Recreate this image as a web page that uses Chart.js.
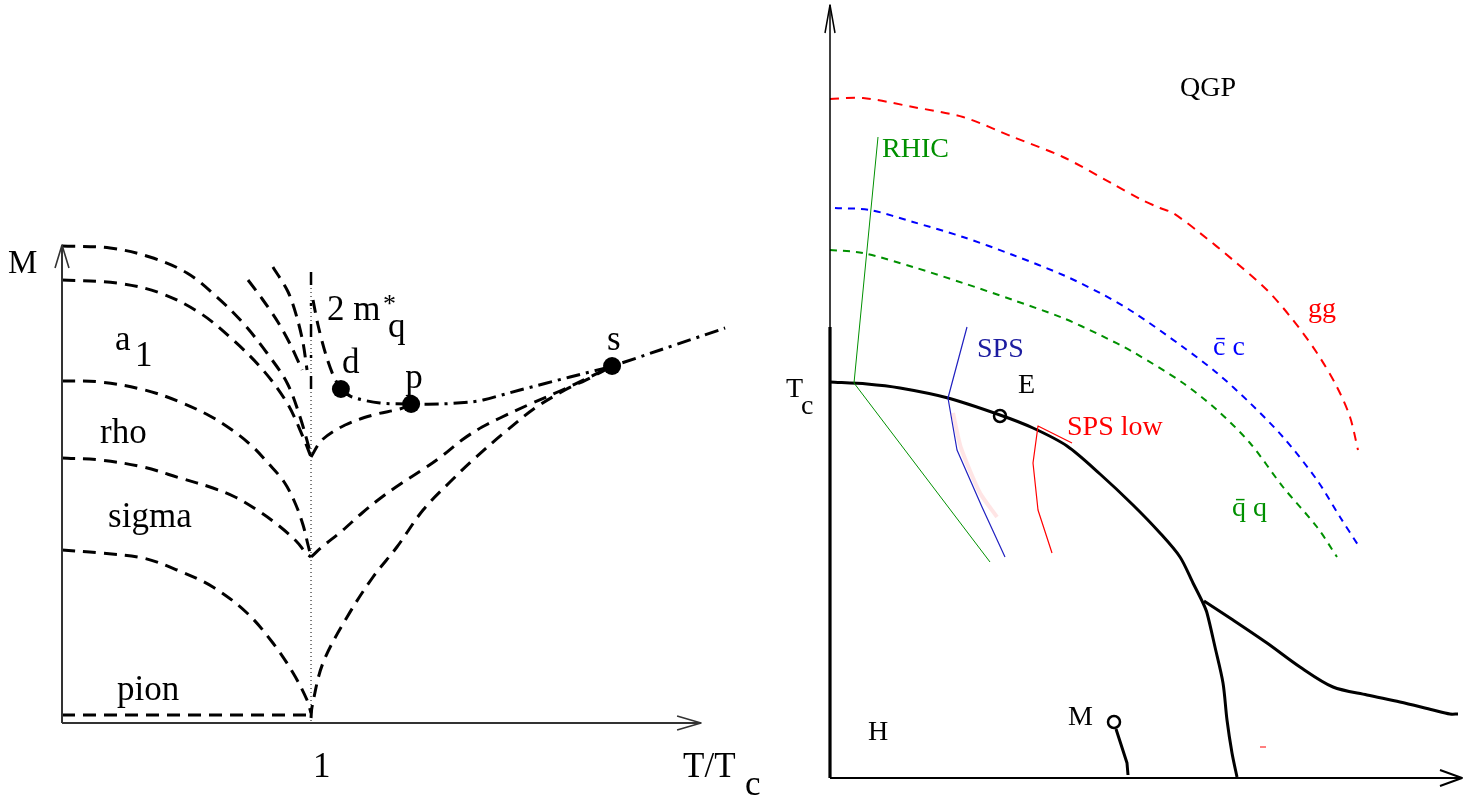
<!DOCTYPE html>
<html><head><meta charset="utf-8">
<script src="https://cdn.jsdelivr.net/npm/chart.js@4.4.1/dist/chart.umd.min.js"></script>
<style>
html,body{margin:0;padding:0;background:#fff;overflow:hidden}
#wrap{position:relative;width:1465px;height:795px;background:#fff}
#left{position:absolute;left:0;top:0}
#right{position:absolute;left:760px;top:0}
</style></head>
<body><div id="wrap"><canvas id="left" width="760" height="795"></canvas><canvas id="right" width="705" height="795"></canvas></div>
<script>
// ===================== LEFT PANEL: M vs T/Tc =====================
const mAxis   = [[0,0],[0,4.78]];
const mArrow  = [[-0.028,4.55],[0,4.78],[0.028,4.55]];
const tAxis   = [[0,0],[2.566,0]];
const tArrow  = [[2.470,0.07],[2.566,0],[2.470,-0.07]];
const tcLine  = [[1,4.51],[1,0]];

const curveA  = [[0,4.77],[0.193,4.75],[0.353,4.66],[0.502,4.50],[0.622,4.26],[0.727,4.00],[0.823,3.70],[0.904,3.40],[0.956,3.06],[1.0,2.68]];
const curveB  = [[0,4.43],[0.221,4.40],[0.394,4.30],[0.554,4.10],[0.687,3.83],[0.807,3.53],[0.904,3.20],[0.968,2.86],[1.0,2.66]];
const curveA1 = [[0,3.42],[0.153,3.41],[0.333,3.33],[0.474,3.21],[0.594,3.07],[0.683,2.93],[0.763,2.77],[0.827,2.60],[0.892,2.41],[0.936,2.20],[0.968,1.98],[0.988,1.78],[1.0,1.66]];
const curveRho= [[0,2.65],[0.153,2.63],[0.325,2.56],[0.474,2.45],[0.606,2.35],[0.695,2.26],[0.783,2.13],[0.867,1.98],[0.940,1.82],[0.980,1.70],[1.0,1.66]];
const curveSig= [[0,1.73],[0.153,1.70],[0.325,1.65],[0.462,1.53],[0.606,1.36],[0.743,1.10],[0.847,0.80],[0.928,0.50],[0.984,0.23],[1.0,0.10]];
const curvePion=[[0,0.08],[0.98,0.08]];
const steepC  = [[0.747,4.43],[0.807,4.23],[0.867,4.01],[0.920,3.77],[0.964,3.53]];
const steepD  = [[0.847,4.56],[0.908,4.31],[0.944,4.05],[0.968,3.80],[0.984,3.53]];
const riseP   = [[1.0,2.66],[1.044,2.83],[1.137,2.98],[1.249,3.08],[1.357,3.14],[1.402,3.18]];
const riseS1  = [[1.0,1.66],[1.044,1.76],[1.124,1.92],[1.205,2.10],[1.285,2.26],[1.365,2.40],[1.446,2.53],[1.526,2.67],[1.606,2.83],[1.687,2.96],[1.759,3.05],[1.880,3.19],[2.000,3.32],[2.120,3.46],[2.209,3.57]];
const riseS2  = [[1.0,0.05],[1.004,0.16],[1.048,0.60],[1.145,1.06],[1.249,1.46],[1.345,1.76],[1.450,2.13],[1.558,2.41],[1.659,2.65],[1.779,2.91],[1.900,3.15],[2.020,3.33],[2.120,3.45],[2.209,3.57]];
const lineD   = [[1.008,4.23],[1.028,3.98],[1.060,3.68],[1.092,3.46],[1.120,3.34]];
const mq2Vert = [[1,4.51],[1,3.30],[1.056,3.31]];
const mq2     = [[1.120,3.34],[1.165,3.26],[1.277,3.20],[1.402,3.19],[1.518,3.19],[1.639,3.21],[1.691,3.23],[1.839,3.33],[2.040,3.46],[2.209,3.57],[2.402,3.73],[2.663,3.95]];
const dots    = [[1.120,3.34],[1.402,3.19],[2.209,3.57]];

const leftText  = ["M","a","1","rho","sigma","pion","2 m","*","q","d","p","s","1","T/T","c"];
const leftTextX = [-0.217,0.213,0.293,0.153,0.185,0.221,1.064,1.289,1.309,1.124,1.378,2.189,1.008,2.494,2.743];
const leftTextY = [4.50,3.73,3.57,2.80,1.96,0.23,4.03,4.11,3.86,3.50,3.35,3.73,-0.54,-0.54,-0.72];
const leftTextSize = [33,35,35,35,35,35,35,26,35,35,35,35,35,35,35];

// ===================== RIGHT PANEL: T vs mu =====================
const yAxisR   = [[0,0],[0,7.73]];
const yAxisRT  = [[0,0],[0,4.51]];
const yArrowR  = [[-0.05,7.45],[0,7.73],[0.05,7.45]];
const xAxisR   = [[0,0],[6.32,0]];
const xArrowR  = [[6.10,0.08],[6.32,0],[6.10,-0.08]];

const ggLine  = [[0,6.79],[0.33,6.80],[0.83,6.71],[1.33,6.61],[1.83,6.41],[2.33,6.21],[2.83,5.94],[3.10,5.79],[3.30,5.70],[3.43,5.65],[3.70,5.45],[4.03,5.18],[4.37,4.88],[4.63,4.58],[4.87,4.25],[5.07,3.91],[5.20,3.61],[5.28,3.28]];
const ccLine  = [[0.05,5.70],[0.40,5.68],[0.83,5.56],[1.33,5.41],[1.83,5.23],[2.33,5.03],[2.70,4.85],[3.03,4.66],[3.53,4.31],[3.87,4.05],[4.20,3.75],[4.53,3.41],[4.87,2.98],[5.10,2.61],[5.30,2.30]];
const qqLine  = [[0,5.28],[0.33,5.25],[0.83,5.11],[1.33,4.95],[1.83,4.78],[2.33,4.60],[2.70,4.43],[3.03,4.26],[3.53,3.95],[3.87,3.68],[4.20,3.35],[4.53,2.91],[4.87,2.51],[5.07,2.21]];
const boundary= [[0,3.96],[0.37,3.94],[0.70,3.90],[1.18,3.80],[1.70,3.63],[2.03,3.50],[2.37,3.32],[2.70,3.04],[3.03,2.73],[3.30,2.45],[3.50,2.21],[3.63,1.95],[3.73,1.75],[3.77,1.65],[3.85,1.31],[3.93,0.95],[3.97,0.58],[4.02,0.25],[4.07,0.01]];
const branch  = [[3.74,1.77],[4.03,1.58],[4.37,1.35],[4.70,1.11],[5.03,0.91],[5.37,0.83],[5.70,0.76],[6.03,0.68],[6.20,0.64],[6.28,0.64]];
const mLine   = [[2.86,0.49],[2.97,0.15],[2.98,0.03]];
const rhicLine= [[0.48,6.41],[0.24,3.95],[1.60,2.16]];
const spsLine = [[1.37,4.51],[1.18,3.80],[1.27,3.28],[1.52,2.71],[1.75,2.21]];
const spsBand = [[1.23,3.65],[1.31,3.30],[1.50,2.85],[1.67,2.61]];
const spsLow  = [[2.42,3.35],[2.08,3.52],[2.03,3.15],[2.08,2.68],[2.22,2.25]];
const redTick = [[4.30,0.31],[4.36,0.31]];
const circlesR= [[1.70,3.62],[2.84,0.56]];

const rightText  = ["QGP","RHIC","SPS","E","SPS low","T","c","gg","c\u0304 c","q\u0304 q","H","M"];
const rightTextX = [3.50,0.52,1.47,1.88,2.37,-0.44,-0.29,4.78,3.83,4.02,0.38,2.38];
const rightTextY = [6.82,6.21,4.21,3.85,3.43,3.81,3.64,4.61,4.23,2.62,0.38,0.53];

// ===================== styling / rendering =====================
const GREEN = '#009000', RED = '#ff0000', BLUE = '#0000ff', NAVY = '#1c1ca0';
const rightTextColor = ['#000',GREEN,NAVY,'#000',RED,'#000','#000',RED,BLUE,GREEN,'#000','#000'];
const rightTextSize  = [28,28,28,28,28,28,28,28,28,28,28,28];

const pts = a => a.map(p => ({x:p[0], y:p[1]}));
function line(data, color, width, dash, tension){
  return {data:pts(data), showLine:true, borderColor:color, borderWidth:width,
          borderDash:dash||[], tension:tension||0, pointRadius:0, fill:false,
          borderCapStyle:'butt', borderJoinStyle:'round'};
}
const textPlugin = {
  id:'textLabels',
  afterDatasetsDraw(chart, args, opts){
    const ctx = chart.ctx, sx = chart.scales.x, sy = chart.scales.y;
    ctx.save();
    ctx.textBaseline = 'alphabetic'; ctx.textAlign = 'left';
    opts.items.forEach(it => {
      ctx.font = it.size + 'px "Liberation Serif", "DejaVu Serif", serif';
      ctx.fillStyle = it.color;
      ctx.fillText(it.text, sx.getPixelForValue(it.x), sy.getPixelForValue(it.y));
    });
    ctx.restore();
  }
};
function makeChart(id, datasets, xr, yr, items){
  return new Chart(document.getElementById(id), {
    type:'scatter',
    data:{datasets},
    options:{
      responsive:false, animation:false, devicePixelRatio:1, events:[],
      layout:{padding:0, autoPadding:false},
      scales:{
        x:{type:'linear', min:xr[0], max:xr[1], display:false},
        y:{type:'linear', min:yr[0], max:yr[1], display:false}
      },
      plugins:{legend:{display:false}, tooltip:{enabled:false}, textLabels:{items}}
    },
    plugins:[textPlugin]
  });
}

const DASH = [13,8], DD = [14,6,3,6];
const leftSets = [
  line(tcLine,'#000',1,[1,3]),
  line(mAxis,'#333',2), line(mArrow,'#333',1.6), line(tAxis,'#333',2), line(tArrow,'#333',1.6),
  line(curveA,'#000',3,DASH,0.35), line(curveB,'#000',3,DASH,0.35),
  line(curveA1,'#000',3,DASH,0.35), line(curveRho,'#000',3,DASH,0.35),
  line(curveSig,'#000',3,DASH,0.35), line(curvePion,'#000',3,DASH,0),
  line(steepC,'#000',3,DASH,0.3), line(steepD,'#000',3,DASH,0.3),
  line(riseP,'#000',3,DASH,0.35), line(riseS1,'#000',3,DASH,0.35), line(riseS2,'#000',3,DASH,0.35),
  line(lineD,'#000',3,DASH,0.3),
  line(mq2Vert,'#000',2.5,[13,18,3,18],0), line(mq2,'#000',3,DD,0.3),
  {data:pts(dots), showLine:false, pointRadius:9, pointBackgroundColor:'#000', pointBorderColor:'#000', pointBorderWidth:0}
];
const leftItems = leftText.map((t,i)=>({text:t, x:leftTextX[i], y:leftTextY[i], size:leftTextSize[i], color:'#000'}));
makeChart('left', leftSets, [-0.249,2.803], [-0.72,7.23], leftItems);

const rightSets = [
  line(yAxisR,'#000',1.5), line(yAxisRT,'#000',3.2), line(yArrowR,'#000',1.5),
  line(xAxisR,'#000',2), line(xArrowR,'#000',2),
  line(ggLine,RED,2,[9,7],0.3), line(ccLine,BLUE,2,[7,6],0.3), line(qqLine,GREEN,2,[7,6],0.3),
  line(spsBand,'rgba(255,170,170,0.3)',4,[],0.2),
  line(rhicLine,GREEN,1,[],0), line(spsLine,'#2020c0',1.2,[],0), line(spsLow,RED,1.2,[],0),
  line(boundary,'#000',3,[],0.3), line(branch,'#000',3,[],0.3), line(mLine,'#000',3,[],0),
  line(redTick,RED,1,[],0),
  {data:pts(circlesR), showLine:false, pointRadius:6, pointBackgroundColor:'#fff', pointBorderColor:'#000', pointBorderWidth:2.5}
];
const rightItems = rightText.map((t,i)=>({text:t, x:rightTextX[i], y:rightTextY[i], size:rightTextSize[i], color:rightTextColor[i]}));
makeChart('right', rightSets, [-0.70,6.35], [-0.17,7.78], rightItems);
</script>
</body></html>
